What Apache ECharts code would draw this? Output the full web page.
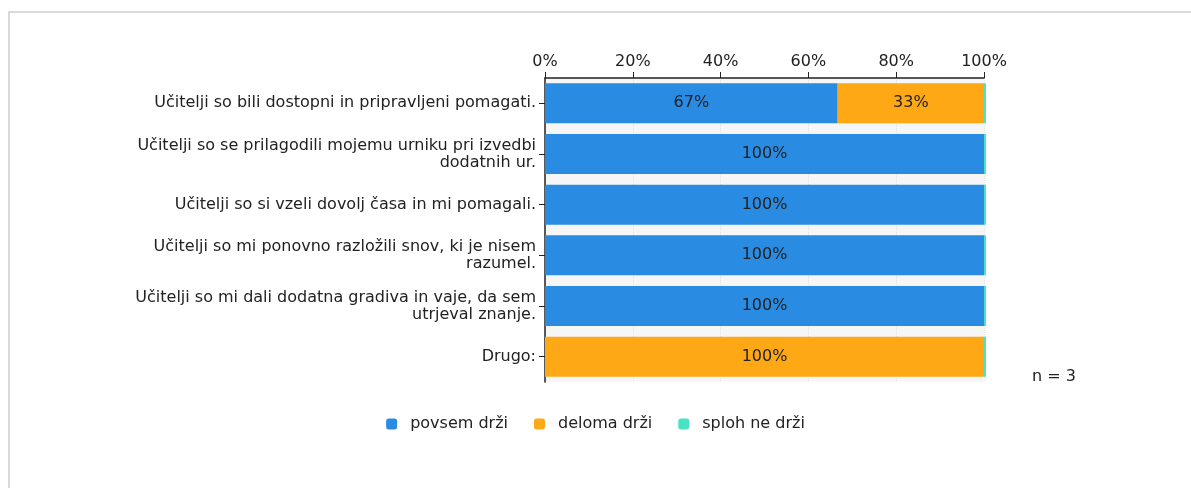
<!DOCTYPE html>
<html>
<head>
<meta charset="utf-8">
<script src="https://cdn.jsdelivr.net/npm/echarts@6/dist/echarts.min.js"></script>
<style>
  html, body { margin: 0; padding: 0; background: #fff; }
  #frame { position: absolute; left: 8px; top: 11px; width: 1200px; height: 500px;
           border-left: 2px solid #d9d9d9; border-top: 2px solid #d9d9d9; }
  #chart { position: absolute; left: 0; top: 0; width: 1191px; height: 488px; }
</style>
</head>
<body>
<div id="frame"></div>
<div id="chart"></div>
<script>
// podatki ankete (delež v %)
var chartData = {
  x: [
    'Učitelji so bili dostopni in pripravljeni pomagati.',
    'Učitelji so se prilagodili mojemu urniku pri izvedbi\ndodatnih ur.',
    'Učitelji so si vzeli dovolj časa in mi pomagali.',
    'Učitelji so mi ponovno razložili snov, ki je nisem\nrazumel.',
    'Učitelji so mi dali dodatna gradiva in vaje, da sem\nutrjeval znanje.',
    'Drugo:'
  ],
  y1: [66.67, 100, 100, 100, 100, 0],
  y2: [33.33, 0, 0, 0, 0, 100],
  // "sploh ne drži" je 0 %, v grafu le tanka črta na koncu
  y3: [0.45, 0.45, 0.45, 0.45, 0.45, 0.45]
}

var font = 'DejaVu Sans'
var fs = 16
var chart = echarts.init(document.getElementById('chart'))

function pct(p) {
  return p.value > 0 ? Math.round(p.value) + '%' : ''
}

var label = {
  show: true,
  position: 'inside',
  color: '#222',
  fontFamily: font,
  fontSize: fs,
  formatter: pct
}

chart.setOption({
  animation: false,
  textStyle: { fontFamily: font },
  legend: {
    data: ['povsem drži', 'deloma drži', 'sploh ne drži'],
    left: 'center',
    top: 411,
    itemWidth: 11,
    itemHeight: 11,
    itemGap: 26,
    icon: 'roundRect',
    textStyle: { fontFamily: font, fontSize: fs, color: '#222', padding: [0, 0, 0, 8] }
  },
  graphic: [
    {
      type: 'text',
      left: 1032,
      top: 369,
      style: { text: 'n = 3', fontFamily: font, fontSize: fs, fill: '#222' }
    }
  ],
  grid: {
    left: 545,
    right: 207,
    top: 78,
    bottom: 106,
    show: true,
    backgroundColor: '#f6f6f6',
    borderWidth: 0
  },
  xAxis: {
    type: 'value',
    position: 'top',
    min: 0,
    max: 100,
    interval: 20,
    axisLine: { show: true, lineStyle: { color: '#222', width: 1.5 } },
    axisTick: { show: true, length: 6, lineStyle: { color: '#222' } },
    axisLabel: {
      formatter: '{value}%',
      color: '#222',
      fontFamily: font,
      fontSize: fs,
      margin: 8
    },
    splitLine: { show: true, lineStyle: { color: '#e2e2e2', type: 'dotted' } }
  },
  yAxis: {
    type: 'category',
    inverse: true,
    data: chartData.x,
    axisLine: { show: true, lineStyle: { color: '#222', width: 1.5 } },
    axisTick: { show: true, alignWithLabel: true, length: 6, lineStyle: { color: '#222' } },
    axisLabel: {
      color: '#222',
      fontFamily: font,
      fontSize: fs,
      lineHeight: 17,
      margin: 9,
      align: 'right'
    }
  },
  series: [
    {
      name: 'povsem drži',
      type: 'bar',
      stack: 'Total',
      barWidth: 40,
      itemStyle: { color: '#2a8be3' },
      label: label,
      data: chartData.y1
    },
    {
      name: 'deloma drži',
      type: 'bar',
      stack: 'Total',
      barWidth: 40,
      itemStyle: { color: '#fea815' },
      label: label,
      data: chartData.y2
    },
    {
      name: 'sploh ne drži',
      type: 'bar',
      stack: 'Total',
      barWidth: 40,
      clip: false,
      itemStyle: { color: '#48e2c4' },
      label: { show: false },
      data: chartData.y3
    }
  ]
})
</script>
</body>
</html>
